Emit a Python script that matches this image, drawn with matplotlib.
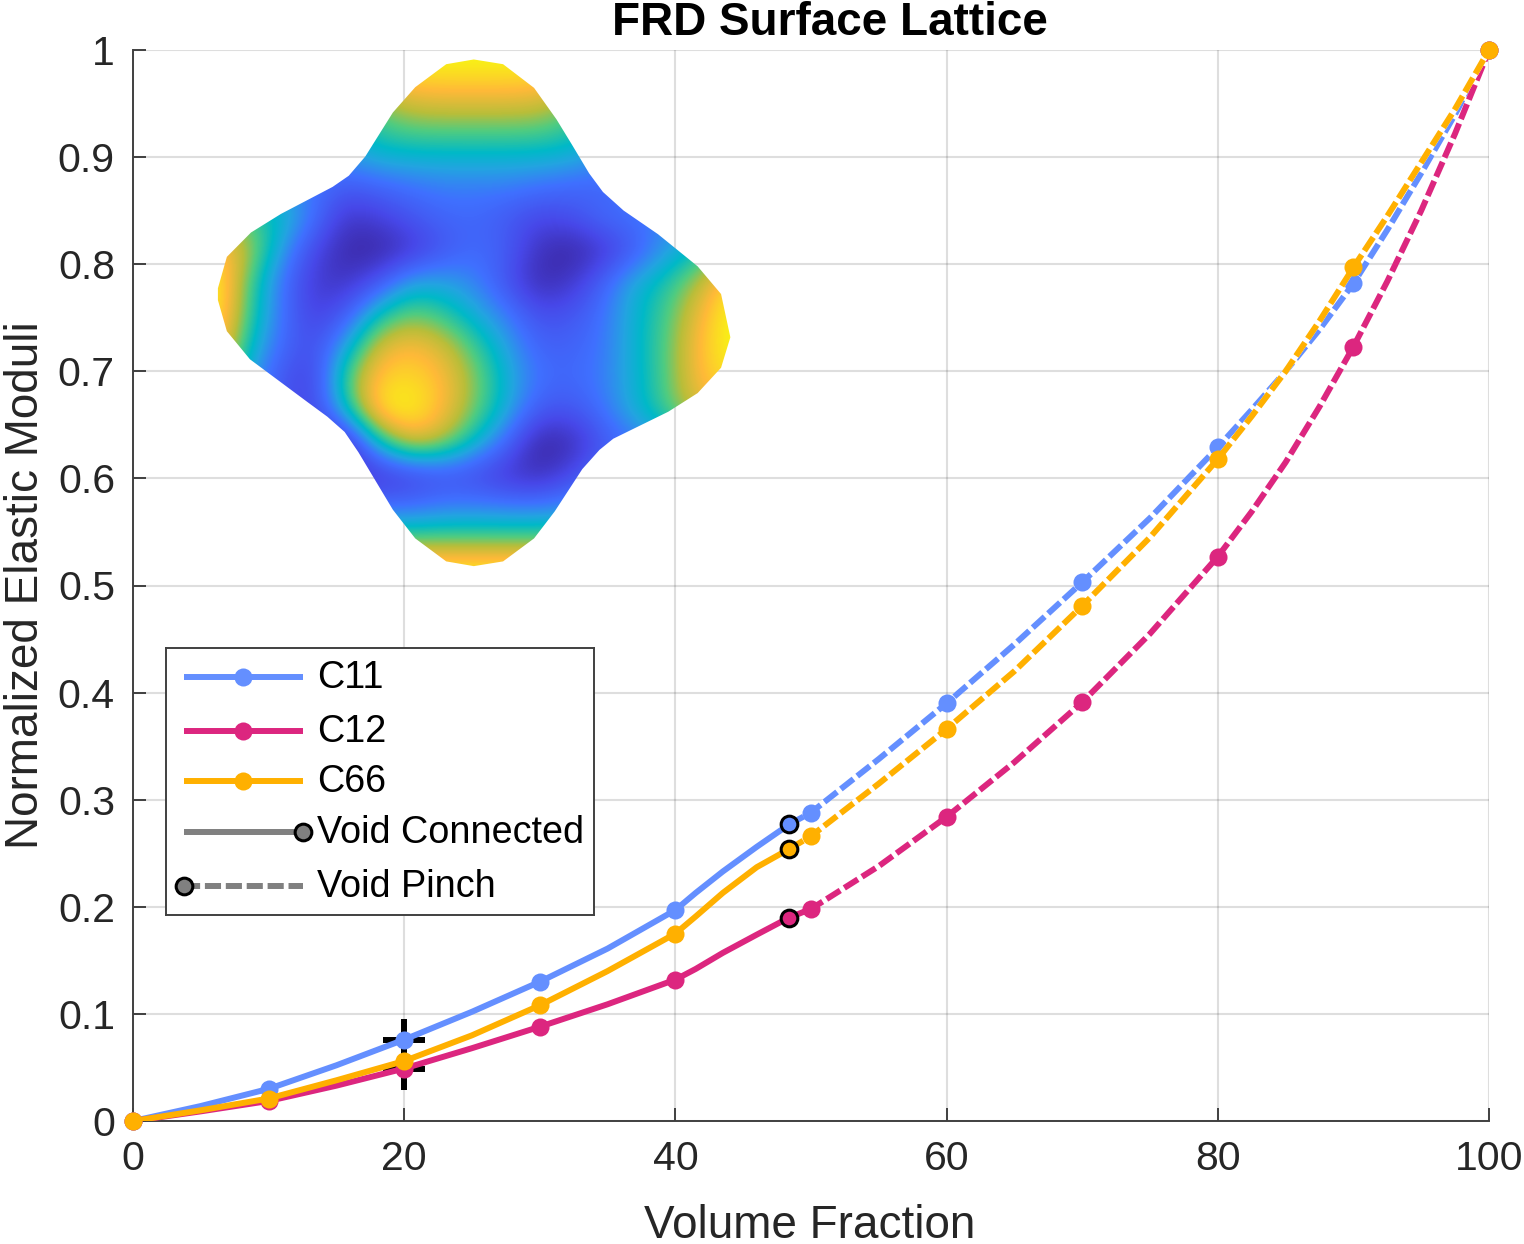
import numpy as np
import matplotlib
matplotlib.use('Agg')
import matplotlib.pyplot as plt
from matplotlib.colors import LinearSegmentedColormap
from matplotlib.patches import Polygon

plt.rcParams['font.family'] = ['Liberation Sans', 'DejaVu Sans']

# measured values at each volume fraction
vf = [0, 10, 20, 30, 40, 50, 60, 70, 80, 90, 100]
c11 = [0, .030, .076, .130, .197, .288, .390, .503, .629, .782, 1]
c12 = [0, .0187, .049, .088, .132, .198, .284, .391, .527, .723, 1]
c66 = [0, .021, .056, .108, .175, .266, .366, .481, .618, .797, 1]

curve_vf = [0, 5, 10, 15, 20, 25, 30, 35, 40, 41.5, 43.5, 46, 48.4, 50, 55, 60, 65, 70, 75, 80,
            82.5, 85, 87.5, 90, 92.5, 95, 97.5, 100]
curve_c11 = [0, .014, .030, .052, .076, .102, .130, .161, .197, .213, .233, .256, .277, .288, .338, .390, .445, .503,
             .563, .629, .664, .700, .739, .782, .832, .885, .940, 1]
curve_c12 = [0, .009, .0187, .033, .049, .068, .088, .109, .132, .142, .157, .174, .190, .198, .238, .284, .335, .391,
             .455, .527, .569, .615, .667, .723, .784, .850, .922, 1]
curve_c66 = [0, .010, .021, .038, .056, .080, .108, .140, .175, .191, .213, .237, .254, .266, .315, .366, .420, .481,
             .545, .618, .658, .700, .747, .797, .845, .895, .945, 1]

# void transition and the two cross marks
pinch_vf = 48.4
pinch_values = [.277, .190, .254]
cross_vf = [20, 20]
cross_values = [.076, .049]

series_names = ['C11', 'C12', 'C66']
series_colors = ['#648FFF', '#DC267F', '#FFB000']

y_ticks = [0, .1, .2, .3, .4, .5, .6, .7, .8, .9, 1]
y_tick_labels = ['0', '0.1', '0.2', '0.3', '0.4', '0.5', '0.6', '0.7', '0.8', '0.9', '1']
x_ticks = [0, 20, 40, 60, 80, 100]

# surface picture: colour level on a coarse grid, read by eye
surface_levels = [
    [1, 1, 1, 1, 1, 1, 1, 1, 1, 1, 1, 1, 1, 1, 1, 1, 1],
    [.5, .5, .5, .5, .6, .75, .85, .86, .86, .86, .85, .75, .5, .5, .5, .5, .5],
    [.4, .4, .4, .4, .5, .6, .66, .67, .67, .67, .66, .6, .5, .4, .4, .4, .4],
    [.4, .4, .4, .35, .4, .48, .49, .49, .49, .49, .49, .47, .4, .35, .35, .35, .35],
    [.5, .45, .4, .3, .22, .26, .3, .33, .33, .33, .3, .27, .25, .3, .35, .35, .35],
    [.7, .6, .5, .3, .08, .12, .2, .26, .27, .22, .15, .18, .28, .3, .35, .4, .45],
    [.9, .72, .4, .15, .02, .0, .08, .2, .28, .24, .06, .0, .08, .22, .4, .5, .7],
    [1, .6, .3, .1, .07, .2, .42, .42, .35, .2, .03, .08, .25, .45, .55, .72, .95],
    [.98, .58, .3, .12, .22, .52, .65, .58, .45, .33, .18, .2, .3, .47, .6, .82, 1],
    [.92, .5, .27, .17, .42, .78, .86, .78, .6, .42, .25, .25, .31, .47, .62, .86, 1],
    [.8, .4, .2, .13, .62, .9, .93, .86, .68, .47, .3, .27, .33, .46, .62, .85, .95],
    [.6, .35, .2, .15, .5, .96, 1.0, .86, .66, .45, .22, .2, .3, .46, .6, .8, .8],
    [.4, .3, .2, .04, .02, .5, .8, .72, .5, .28, .0, .03, .2, .3, .4, .5, .6],
    [.3, .2, .15, .1, .06, .08, .12, .18, .16, .08, .04, .15, .3, .3, .3, .3, .3],
    [.35, .33, .33, .33, .3, .28, .28, .32, .33, .32, .32, .35, .4, .4, .4, .4, .4],
    [.62, .62, .62, .62, .62, .62, .62, .62, .62, .62, .62, .62, .62, .62, .62, .62, .62],
    [1, 1, 1, 1, 1, 1, 1, 1, 1, 1, 1, 1, 1, 1, 1, 1, 1],
]
outline_x = [715, 795, 880, 970, 1035, 1080, 1130, 1170, 1230, 1330, 1445, 1513, 1540, 1513, 1445, 1360, 1200, 1160,
             1110, 1030, 970, 880, 795, 715, 625, 560, 510, 460, 420, 370, 310, 145, 78, 52, 52, 78, 148, 235, 385,
             432, 480, 560, 625]
outline_y = [42, 28, 42, 112, 205, 280, 365, 420, 475, 545, 640, 722, 850, 940, 1015, 1070, 1150, 1183,
             1240, 1365, 1445, 1513, 1527, 1513, 1445, 1360, 1275, 1190, 1130, 1085, 1040, 915, 832, 740, 705, 612,
             540, 485, 405, 372, 315, 185, 110]
surface_cmap = LinearSegmentedColormap.from_list('surface', [
    (0, '#3A259F'), (.15, '#4747E8'), (.3, '#3F70FF'), (.42, '#22A5E0'), (.5, '#00B9C8'),
    (.62, '#50CC80'), (.72, '#B8BE3A'), (.85, '#FFB938'), (1, '#F8FA10')])

DARK = '#404040'
TEXT = '#262626'
GRAY = '#808080'
LW = 4.3
DASH = (2.7, 0.8)
W, H = 1524, 1244


def px_axes(x0, y0, x1, y1):
    return [x0 / W, 1 - y1 / H, (x1 - x0) / W, (y1 - y0) / H]


fig = plt.figure(figsize=(W / 100, H / 100), dpi=100)
ax = fig.add_axes(px_axes(133, 50, 1489, 1121))

ax.grid(True, color='#262626', alpha=0.15, lw=1.5)
ax.set_axisbelow(True)
ax.plot(cross_vf, cross_values, ls='none', marker='+', ms=30, mew=4.3, color='k', zorder=2.5)

curve_vf = np.array(curve_vf)
solid = curve_vf <= pinch_vf
dashed = curve_vf >= pinch_vf
curves = [curve_c11, curve_c12, curve_c66]
values = [c11, c12, c66]
for curve, val, color in zip(curves, values, series_colors):
    curve = np.array(curve)
    ax.plot(curve_vf[solid], curve[solid], color=color, lw=LW, zorder=3)
    # the gaps of the dashes show white, also over the other series
    ax.plot(curve_vf[dashed], curve[dashed], color='white', lw=LW, zorder=3)
    ax.plot(curve_vf[dashed], curve[dashed], color=color, lw=LW, dashes=DASH, zorder=3)
    ax.plot(vf, val, ls='none', marker='o', ms=13, mew=0, color=color, clip_on=False, zorder=3)
for val, color in zip(pinch_values, series_colors):
    ax.plot([pinch_vf], [val], ls='none', marker='o', ms=12, mfc=color, mec='k', mew=2.2, zorder=4)

ax.set_xlim(0, 100)
ax.set_ylim(0, 1)
ax.set_xticks(x_ticks)
ax.set_yticks(y_ticks)
ax.set_yticklabels(y_tick_labels)
ax.tick_params(direction='in', length=9.6, width=1.4, labelsize=29.5, color=DARK, labelcolor=TEXT)
ax.tick_params(axis='x', pad=14)
ax.tick_params(axis='y', pad=13)
ax.spines['top'].set_visible(False)
ax.spines['right'].set_visible(False)
for side in ['left', 'bottom']:
    ax.spines[side].set_linewidth(1.4)
    ax.spines[side].set_color(DARK)
ax.set_xlabel('Volume Fraction', fontsize=33, color=TEXT)
ax.xaxis.set_label_coords(0.499, -0.0775)
ax.set_ylabel('Normalized Elastic Moduli', fontsize=33, color=TEXT)
ax.yaxis.set_label_coords(-0.0625, 0.5)
ax.set_title('FRD Surface Lattice', fontsize=33, fontweight='bold', x=0.514, pad=11)

# inset surface, coordinates are those of the zoomed crop
inset = fig.add_axes(px_axes(200, 50, 740, 580))
inset.axis('off')
im = inset.imshow(surface_levels, cmap=surface_cmap, vmin=0, vmax=1, interpolation='bicubic',
                  interpolation_stage='data', extent=(5.5, 1584.5, 1586, -23), aspect='auto')
shape = Polygon(np.column_stack([outline_x, outline_y]), closed=True, transform=inset.transData)
im.set_clip_path(shape)
inset.set_xlim(0, 1568)
inset.set_ylim(1568, 0)

# hand built legend, the void entries have the marker at one line end
leg = fig.add_axes(px_axes(166, 648, 594, 915))
leg.set_xlim(0, 428)
leg.set_ylim(267, 0)
leg.set_xticks([])
leg.set_yticks([])
for s in leg.spines.values():
    s.set_linewidth(1.4)
    s.set_color(DARK)
rows = [29, 83, 133, 184, 238]
for y, name, color in zip(rows, series_names, series_colors):
    leg.plot([18, 137], [y, y], color=color, lw=LW, solid_capstyle='butt')
    leg.plot([77], [y], marker='o', ms=13, mew=0, color=color)
    leg.text(151, y + 1, name, fontsize=27.2, va='center', color='k')
leg.plot([18, 137], [rows[3]] * 2, color=GRAY, lw=LW, solid_capstyle='butt')
leg.plot([137], [rows[3]], marker='o', ms=12, mfc=GRAY, mec='k', mew=2.2, clip_on=False)
leg.text(151, rows[3] + 1, 'Void Connected', fontsize=27.2, va='center', color='k')
leg.plot([18, 137], [rows[4]] * 2, color=GRAY, lw=LW, dashes=DASH)
leg.plot([18], [rows[4]], marker='o', ms=12, mfc=GRAY, mec='k', mew=2.2, clip_on=False)
leg.text(151, rows[4] + 1, 'Void Pinch', fontsize=27.2, va='center', color='k')

plt.savefig('out.png', dpi=100)
plt.close()
